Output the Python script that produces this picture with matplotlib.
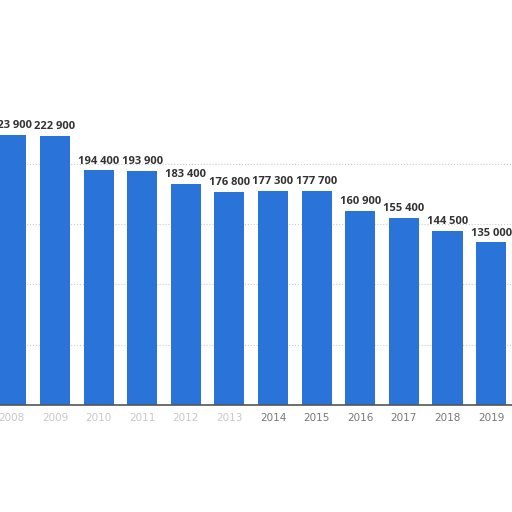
import matplotlib.pyplot as plt

years = ['2008', '2009', '2010', '2011', '2012', '2013',
         '2014', '2015', '2016', '2017', '2018', '2019']
values = [223900, 222900, 194400, 193900, 183400, 176800,
          177300, 177700, 160900, 155400, 144500, 135000]
labels = ['223 900', '222 900', '194 400', '193 900', '183 400', '176 800',
          '177 300', '177 700', '160 900', '155 400', '144 500', '135 000']

fig = plt.figure(figsize=(5.12, 5.12), dpi=100)
ax = fig.add_axes([0, 0.209, 1, 0.791])

x = list(range(len(values)))
ax.bar(x, values, width=0.69, color='#2a74d9', zorder=2)

for xi, v, lab in zip(x, values, labels):
    ax.text(xi, v + 3000, lab, ha='center', va='bottom', fontsize=8,
            fontweight='bold', color='#333333', family=['Open Sans', 'DejaVu Sans'])

ax.set_xlim(-0.261, 11.48)
ax.set_ylim(0, 335700)
for g in [50000, 100000, 150000, 200000]:
    ax.axhline(g, color='#cccccc', linestyle=':', linewidth=0.8, zorder=1)

ax.set_xticks(x)
ax.set_xticklabels(years, fontsize=7.5, color='#777777')
for i, t in enumerate(ax.get_xticklabels()):
    if i < 6:
        t.set_color('#c8c8c8')
ax.tick_params(axis='x', length=0, pad=6)
ax.set_yticks([])
for s in ['top', 'left', 'right']:
    ax.spines[s].set_visible(False)
ax.spines['bottom'].set_color('#555555')
ax.spines['bottom'].set_linewidth(1.2)

fig.savefig('out.png', dpi=100)
